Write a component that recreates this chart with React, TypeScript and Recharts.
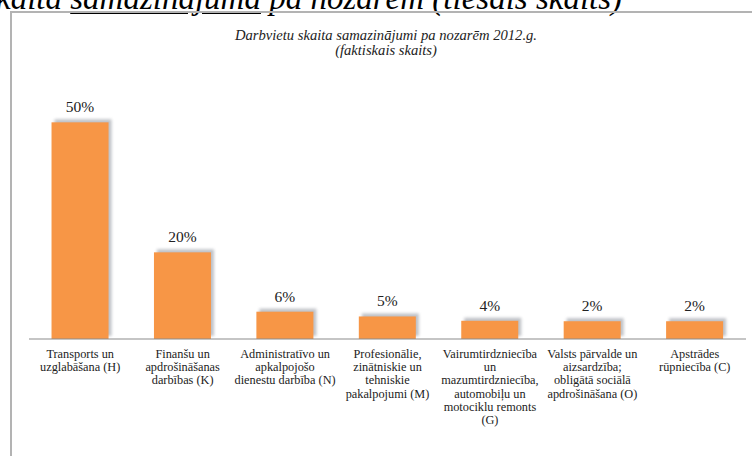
import React from 'react';
import { BarChart, Bar, XAxis, YAxis, LabelList } from 'recharts';

const categories = [
  ['Transports un', 'uzglabāšana (H)'],
  ['Finanšu un', 'apdrošināšanas', 'darbības (K)'],
  ['Administratīvo un', 'apkalpojošo', 'dienestu darbība (N)'],
  ['Profesionālie,', 'zinātniskie un', 'tehniskie', 'pakalpojumi (M)'],
  ['Vairumtirdzniecība', 'un', 'mazumtirdzniecība,', 'automobiļu un', 'motociklu remonts', '(G)'],
  ['Valsts pārvalde un', 'aizsardzība;', 'obligātā sociālā', 'apdrošināšana (O)'],
  ['Apstrādes', 'rūpniecība (C)'],
];
const shares = [50, 20, 6.3, 5.2, 4.2, 4.1, 4.1];
const shareLabels = ['50%', '20%', '6%', '5%', '4%', '2%', '2%'];

const data = categories.map((lines, i) => ({
  name: lines.join(' '),
  value: shares[i],
  label: shareLabels[i],
}));

const serif = 'Liberation Serif, Times New Roman, serif';

const ShadowBar = (props: any) => {
  const { x, y, width, height } = props;
  if (!height) return null;
  return (
    <g>
      <rect x={x + 3} y={y - 3} width={width} height={height} fill="#8a8f99" opacity={0.55} filter="url(#barShadow)" />
      <rect x={x} y={y} width={width} height={height} fill="#F79646" />
    </g>
  );
};

const CategoryTick = (props: any) => {
  const { x, y, index } = props;
  const lines: string[] = categories[index] || [];
  return (
    <text x={x} y={y} textAnchor="middle" fontFamily={serif} fontSize={12.3} fill="#222">
      {lines.map((l, i) => (
        <tspan key={i} x={x} dy={i === 0 ? 19 : 13.2}>{l}</tspan>
      ))}
    </text>
  );
};

export default function App() {
  return (
    <div style={{ position: 'absolute', left: 0, top: 0, width: 752, height: 456, overflow: 'hidden', background: '#fff' }}>
      <div
        style={{
          position: 'absolute', left: -4, top: -17, whiteSpace: 'nowrap', fontFamily: serif,
          fontStyle: 'italic', fontSize: 33, lineHeight: '30px', color: '#000',
        }}
      >
        kaita <span style={{ textDecoration: 'underline' }}>samazinājuma</span> pa nozarēm (tiešais skaits)
      </div>
      <div style={{ position: 'absolute', left: 10, top: 11, width: 760, height: 460, border: '2px solid #b3b3b3', boxSizing: 'border-box' }} />
      <div style={{ position: 'absolute', left: 0, top: 28, width: 772, textAlign: 'center', fontFamily: serif, fontStyle: 'italic', fontSize: 14.6, lineHeight: '15px', color: '#222' }}>
        Darbvietu skaita samazinājumi pa nozarēm 2012.g.<br />(faktiskais skaits)
      </div>
      <div style={{ position: 'absolute', left: 0, top: 0 }}>
        <BarChart width={752} height={456} data={data} margin={{ top: 79, right: 6, left: 29, bottom: 0 }} barCategoryGap="22%">
          <defs>
            <filter id="barShadow" x="-20%" y="-20%" width="140%" height="140%">
              <feGaussianBlur stdDeviation="1.5" />
            </filter>
          </defs>
          <YAxis hide domain={[0, 60]} />
          <XAxis
            dataKey="name"
            interval={0}
            height={117}
            axisLine={{ stroke: '#8c8c8c', strokeWidth: 1.2 }}
            tickLine={false}
            tickSize={0}
            tickMargin={0}
            tick={<CategoryTick />}
          />
          <Bar dataKey="value" shape={<ShadowBar />} isAnimationActive={false}>
            <LabelList dataKey="label" position="top" offset={10} fontFamily={serif} fontSize={15.5} fill="#222" />
          </Bar>
        </BarChart>
      </div>
    </div>
  );
}
